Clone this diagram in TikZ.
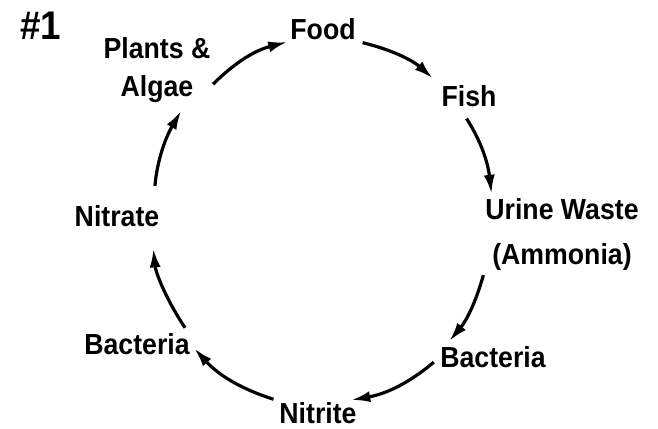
\documentclass[tikz,border=0pt]{standalone}
\usepackage{fontspec}
\setmainfont{Liberation Sans}[FakeStretch=0.92]
\usetikzlibrary{arrows.meta}

\begin{document}
\begin{tikzpicture}[x=1pt, y=1pt,
  lbl/.style={font=\bfseries\fontsize{29}{38}\selectfont, inner sep=1pt, align=center},
  ar/.style={-{Latex[length=19pt,width=11pt]}, line width=3.2pt}]
\useasboundingbox (0,0) rectangle (658,428);
\node[font=\bfseries\fontsize{40}{44}\selectfont, anchor=base] (num) at (41,388) {\#1};
\node[lbl] (algae) at (157,358) {Plants \&\\Algae};
\node[lbl, anchor=base] (food) at (323,388) {Food};
\node[lbl, anchor=base] (fish) at (469,321) {Fish};
\node[lbl] (urine) at (562,193) {Urine Waste\\[7pt](Ammonia)};
\node[lbl, anchor=base] (bacr) at (493,60) {Bacteria};
\node[lbl, anchor=base] (nitrite) at (318,5) {Nitrite};
\node[lbl, anchor=base] (bacl) at (137,73) {Bacteria};
\node[lbl, anchor=base] (nitrate) at (117,201) {Nitrate};
% the cycle, clockwise
\draw[ar, shorten <=2pt, shorten >=2pt] (algae.-16) to[bend left=15] (food.south west);
\draw[ar, shorten <=6pt, shorten >=10pt] (food.-19) to[bend left=14] (fish.158);
\draw[ar, shorten <=12pt, shorten >=4pt] (fish.-127) to[bend left=13] (urine.152);
\draw[ar, shorten <=3pt, shorten >=6pt] (urine.south west) to[bend left=12] (bacr.166);
\draw[ar, shorten <=7pt, shorten >=4pt] (bacr.west) to[bend left=15] (nitrite.22);
\draw[ar, shorten <=5pt, shorten >=5pt] (nitrite.north west) to[bend left=15] (bacl.east);
\draw[ar, shorten <=6pt, shorten >=20pt] (bacl.13) to[bend left=14] (nitrate.-19);
\draw[ar, shorten <=19pt, shorten >=8pt] (nitrate.18) to[bend left=13] (algae.-50);
\end{tikzpicture}
\end{document}
